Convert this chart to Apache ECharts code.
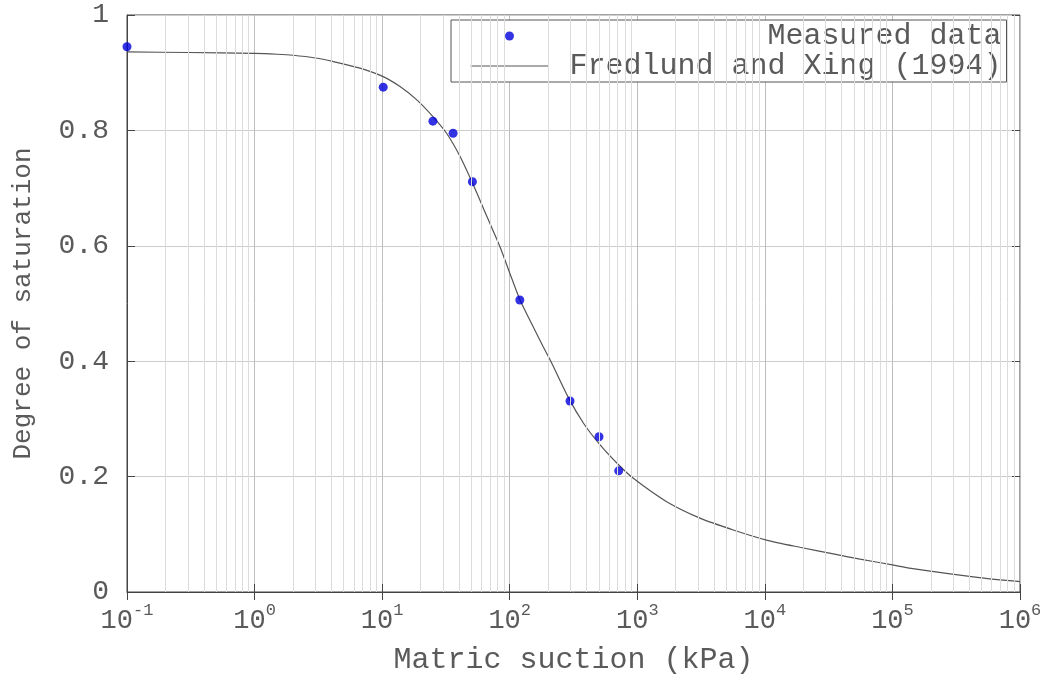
<!DOCTYPE html>
<html>
<head>
<meta charset="utf-8">
<script src="https://cdn.jsdelivr.net/npm/echarts@6/dist/echarts.min.js"></script>
<style>html,body{margin:0;padding:0;background:#fff;}#c{width:1056px;height:675px;}</style>
</head>
<body>
<div id="c"></div>
<script>
// Measured data (matric suction kPa, degree of saturation)
var measuredSuction = [0.1, 10.2, 25, 36, 51, 120, 297, 501, 715];
var measuredSat = [0.945, 0.875, 0.816, 0.795, 0.711, 0.506, 0.331, 0.269, 0.210];
// Fredlund and Xing (1994) fitted curve
var fitSuction = [0.1, 0.3, 1, 1.5, 2, 3, 4.1, 6.7, 10, 13.8, 18.7, 25, 32, 41, 52, 65, 84, 100, 120, 150, 183, 210, 290, 380, 511, 710, 931, 1700, 3100, 5660, 10300, 18800, 34400, 55700, 100000, 140000, 480000, 1000000];
var fitSat = [0.936, 0.935, 0.9335, 0.932, 0.9302, 0.9255, 0.9195, 0.908, 0.894, 0.876, 0.853, 0.824, 0.795, 0.754, 0.705, 0.655, 0.598, 0.553, 0.507, 0.463, 0.425, 0.400, 0.336, 0.292, 0.255, 0.221, 0.197, 0.1565, 0.128, 0.1075, 0.090, 0.0775, 0.066, 0.057, 0.047, 0.041, 0.025, 0.018];
var yTicks = ['0', '0.2', '0.4', '0.6', '0.8', '1'];

var FONT = 'Liberation Mono';
var TXT = '#5a5a5a';
var minorVals = [];
for (var e = -1; e < 6; e++) {
  for (var m = 2; m <= 9; m++) minorVals.push({xAxis: m * Math.pow(10, e)});
}
function zip(a, b) { return a.map(function (v, i) { return [v, b[i]]; }); }

var chart = echarts.init(document.getElementById('c'), null, {renderer: 'canvas'});
chart.setOption({
  animation: false,
  backgroundColor: '#fff',
  grid: {left: 127, top: 15, right: 36, bottom: 83, show: true, borderColor: '#444', borderWidth: 1, backgroundColor: 'transparent', containLabel: false, outerBoundsMode: 'none'},
  legend: {
    data: [
      {name: 'Measured data'},
      {name: 'Fredlund and Xing (1994)', itemStyle: {opacity: 0}, lineStyle: {type: 'solid', width: 1, color: '#555'}}
    ],
    orient: 'vertical',
    left: 451, top: 20,
    padding: [1, 5, 1, 19],
    itemGap: 0,
    itemWidth: 78, itemHeight: 9,
    backgroundColor: '#fff',
    borderColor: '#555', borderWidth: 1,
    formatter: function (n) { return '{r|' + n + '}'; },
    textStyle: {
      fontSize: 30, fontFamily: FONT, lineHeight: 25, color: TXT,
      rich: {r: {width: 448, align: 'right', fontSize: 30, fontFamily: FONT, color: TXT, lineHeight: 25, height: 25}}
    }
  },
  xAxis: [{
    type: 'log', logBase: 10, min: 0.1, max: 1000000, splitNumber: 7,
    name: 'Matric suction (kPa)', nameLocation: 'middle', nameGap: 53,
    nameTextStyle: {fontFamily: FONT, fontSize: 30, color: TXT},
    axisLine: {lineStyle: {color: '#444'}},
    axisTick: {inside: true, length: 8, lineStyle: {color: '#444'}},
    splitLine: {show: true, lineStyle: {color: '#bdbdbd', width: 1}},
    axisLabel: {
      margin: 10,
      formatter: function (v) { return '{b|10}{s|' + Math.round(Math.log10(v)) + '}'; },
      rich: {
        b: {fontFamily: FONT, fontSize: 27, color: TXT},
        s: {fontFamily: FONT, fontSize: 17, color: TXT, padding: [0, 0, 20, 0]}
      }
    }
  }, {
    type: 'log', logBase: 10, min: 0.1, max: 1000000, splitNumber: 7, position: 'top',
    axisLine: {show: false}, axisLabel: {show: false}, splitLine: {show: false},
    axisTick: {inside: true, length: 8, lineStyle: {color: '#444'}}
  }],
  yAxis: [{
    type: 'value', min: 0, max: 1, interval: 0.2,
    name: 'Degree of saturation', nameLocation: 'middle', nameGap: 91,
    nameTextStyle: {fontFamily: FONT, fontSize: 26, color: TXT},
    axisLine: {show: true, lineStyle: {color: '#444'}},
    axisTick: {show: true, inside: true, length: 8, lineStyle: {color: '#444'}},
    splitLine: {show: true, lineStyle: {color: '#cccccc'}},
    axisLabel: {
      margin: 18, fontFamily: FONT, fontSize: 28, color: TXT,
      formatter: function (v) { return yTicks[Math.round(v / 0.2)]; }
    }
  }, {
    type: 'value', min: 0, max: 1, interval: 0.2, position: 'right',
    axisLine: {show: false}, axisLabel: {show: false}, splitLine: {show: false},
    axisTick: {show: true, inside: true, length: 8, lineStyle: {color: '#444'}}
  }],
  series: [{
    name: 'minor', type: 'line', data: [], z: 1, silent: true,
    markLine: {
      silent: true, symbol: ['none', 'none'], label: {show: false},
      lineStyle: {color: '#dcdcdc', width: 1, type: 'solid'},
      emphasis: {disabled: true},
      animation: false,
      data: minorVals
    }
  }, {
    name: 'Fredlund and Xing (1994)', type: 'line', z: 3,
    data: zip(fitSuction, fitSat),
    showSymbol: false, symbol: 'none', smooth: 0.25,
    lineStyle: {color: '#555', width: 1.2},
    itemStyle: {color: '#555'}
  }, {
    name: 'Measured data', type: 'scatter', z: 4,
    data: zip(measuredSuction, measuredSat),
    symbol: 'circle', symbolSize: 9,
    itemStyle: {color: '#0000dd'}
  }]
});
</script>
</body>
</html>
